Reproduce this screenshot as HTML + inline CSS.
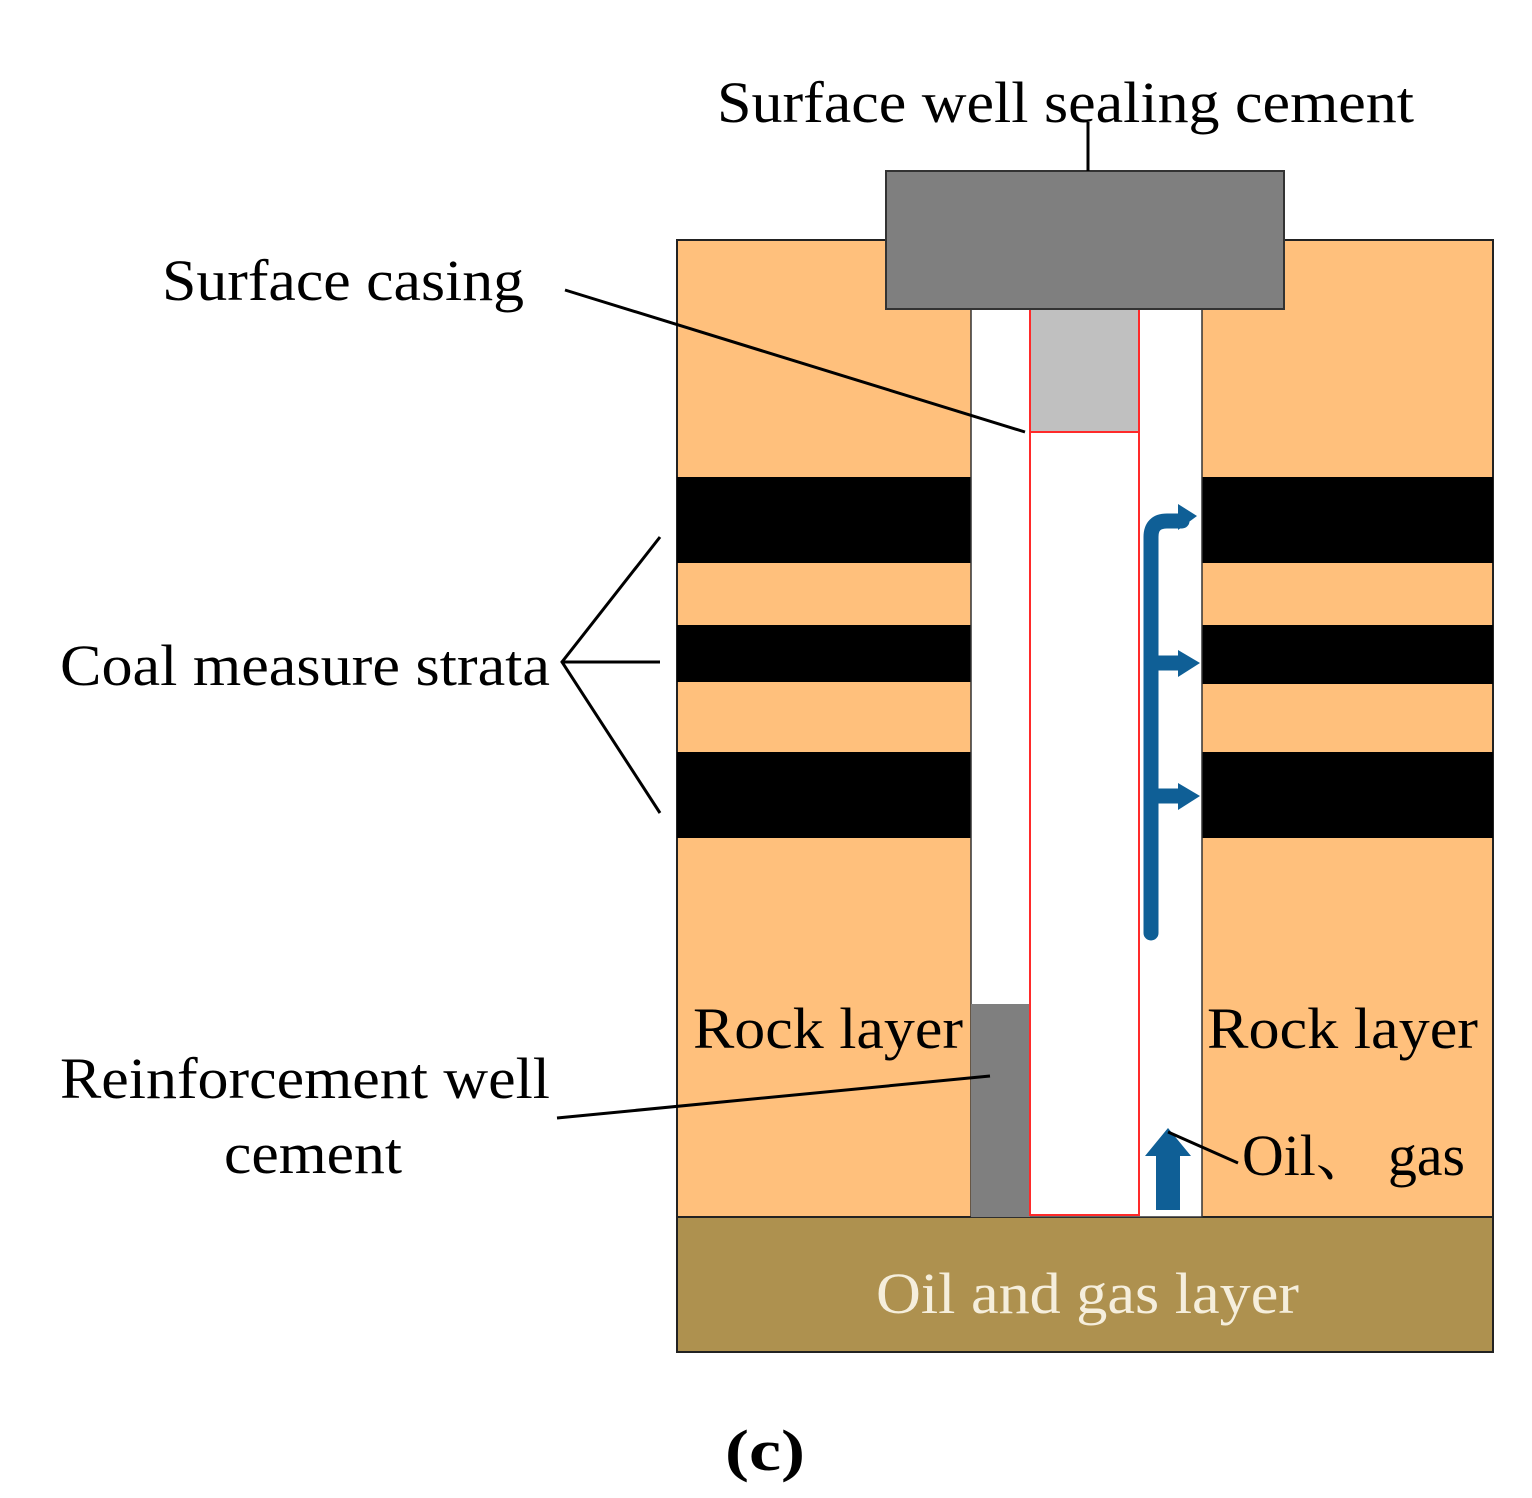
<!DOCTYPE html>
<html><head><meta charset="utf-8"><style>html,body{margin:0;padding:0;background:#fff}svg{display:block}</style></head><body>
<svg width="1532" height="1498" viewBox="0 0 1532 1498" xmlns="http://www.w3.org/2000/svg" font-family="Liberation Serif, serif">
<rect x="677" y="240" width="816" height="977" fill="#FFC07C" stroke="#222" stroke-width="2"/>
<rect x="677" y="1217" width="816" height="135" fill="#AE914F" stroke="#222" stroke-width="2"/>
<g fill="#000">
<rect x="677" y="477" width="294" height="86"/><rect x="677" y="625" width="294" height="57"/><rect x="677" y="752" width="294" height="86"/>
<rect x="1202" y="477" width="291" height="86"/><rect x="1202" y="625" width="291" height="59"/><rect x="1202" y="752" width="291" height="86"/>
</g>
<rect x="971" y="309" width="231" height="908" fill="#fff" stroke="#333" stroke-width="1.5"/>
<rect x="971" y="1004" width="59" height="213" fill="#7F7F7F"/>
<rect x="1030" y="309" width="109" height="123" fill="#C0C0C0"/>
<rect x="1030" y="309" width="109" height="906" fill="none" stroke="#FF2A2A" stroke-width="2"/>
<line x1="1030" y1="432" x2="1139" y2="432" stroke="#FF2A2A" stroke-width="2"/>
<rect x="886" y="171" width="398" height="138" fill="#7F7F7F" stroke="#333" stroke-width="2"/>
<g stroke="#0F5F96" stroke-width="15" fill="none" stroke-linecap="round">
<path d="M1151 933 V537 Q1151 521 1167 521 H1182"/>
<line x1="1151" y1="663" x2="1182" y2="663"/>
<line x1="1151" y1="796" x2="1182" y2="796"/>
</g>
<g fill="#0F5F96">
<polygon points="1178,504 1197,516 1178,530"/>
<polygon points="1178,650 1200,663 1178,677"/>
<polygon points="1178,783 1200,796 1178,810"/>
<polygon points="1145,1156 1168,1128 1191,1156 1180,1156 1180,1210 1156,1210 1156,1156"/>
</g>
<g stroke="#000" stroke-width="3" fill="none">
<line x1="1088" y1="122" x2="1088" y2="171"/>
<line x1="565" y1="290" x2="1025" y2="432"/>
<polyline points="660,537 562,662 660,813"/>
<line x1="562" y1="662" x2="660" y2="662"/>
<line x1="557" y1="1118" x2="990" y2="1076"/>
<line x1="1168" y1="1132" x2="1238" y2="1163"/>
</g>
<g font-size="58" fill="#000">
<text x="717" y="122" textLength="697" lengthAdjust="spacingAndGlyphs">Surface well sealing cement</text>
<text x="162" y="300" textLength="362" lengthAdjust="spacingAndGlyphs">Surface casing</text>
<text x="60" y="685" textLength="490" lengthAdjust="spacingAndGlyphs">Coal measure strata</text>
<text x="693" y="1048" textLength="270" lengthAdjust="spacingAndGlyphs">Rock layer</text>
<text x="1207" y="1048" textLength="271" lengthAdjust="spacingAndGlyphs">Rock layer</text>
<text x="60" y="1098" textLength="490" lengthAdjust="spacingAndGlyphs">Reinforcement well</text>
<text x="224" y="1173" textLength="178" lengthAdjust="spacingAndGlyphs">cement</text>
<text x="1242" y="1175" font-family="Liberation Serif, Noto Serif CJK SC, serif" textLength="223" lengthAdjust="spacingAndGlyphs">Oil、 gas</text>
<text x="876" y="1313" fill="#F5EEDC" textLength="423" lengthAdjust="spacingAndGlyphs">Oil and gas layer</text>
<text x="725" y="1470" font-weight="bold" textLength="80" lengthAdjust="spacingAndGlyphs">(c)</text>
</g>
</svg>
</body></html>
